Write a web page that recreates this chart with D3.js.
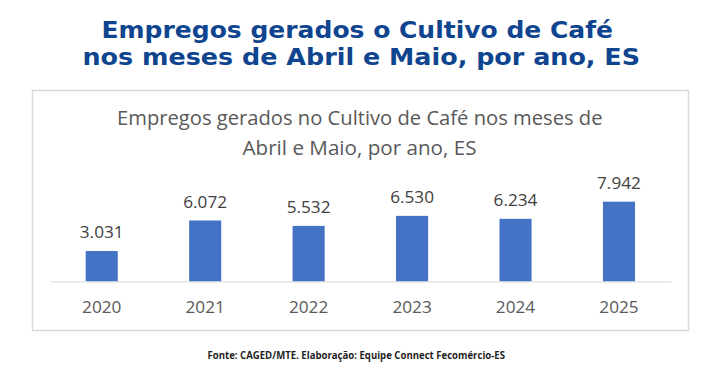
<!DOCTYPE html>
<html>
<head>
<meta charset="utf-8">
<script src="https://cdn.jsdelivr.net/npm/d3@7"></script>
<style>
  html, body { margin: 0; padding: 0; background: #ffffff; }
  svg { display: block; }
</style>
</head>
<body>
<svg id="chart" width="708" height="367"></svg>
<script>
const years = ["2020", "2021", "2022", "2023", "2024", "2025"];
const empregos = [3031, 6072, 5532, 6530, 6234, 7942];
const valueLabels = ["3.031", "6.072", "5.532", "6.530", "6.234", "7.942"];
const mainTitle = ["Empregos gerados o Cultivo de Café", "nos meses de Abril e Maio, por ano, ES"];
const chartTitle = ["Empregos gerados no Cultivo de Café nos meses de", "Abril e Maio, por ano, ES"];
const footer = "Fonte: CAGED/MTE. Elaboração: Equipe Connect Fecomércio-ES";

const svg = d3.select("#chart");

// Main title
const mt = svg.append("g");
const mtSpecs = [
  { y: 37.5, x0: 101.5, x1: 613 },
  { y: 64.5, x0: 82.5, x1: 640 }
];
mainTitle.forEach((t, i) => {
  const s = mtSpecs[i];
  mt.append("text")
    .attr("x", s.x0)
    .attr("y", s.y)
    .attr("textLength", s.x1 - s.x0)
    .attr("lengthAdjust", "spacingAndGlyphs")
    .style("font-family", "'DejaVu Sans', sans-serif")
    .style("font-weight", "bold")
    .style("font-size", "23.5px")
    .style("fill", "#0f448f")
    .text(t);
});

// Chart box
svg.append("rect")
  .attr("x", 32.5).attr("y", 90.5)
  .attr("width", 656).attr("height", 240)
  .attr("fill", "#ffffff")
  .attr("stroke", "#d9d9d9")
  .attr("stroke-width", 1.5);

// Chart title
const ctSpecs = [
  { y: 124.5, x0: 117, x1: 602.5 },
  { y: 154.5, x0: 242.5, x1: 476.5 }
];
chartTitle.forEach((t, i) => {
  const s = ctSpecs[i];
  svg.append("text")
    .attr("x", s.x0)
    .attr("y", s.y)
    .attr("textLength", s.x1 - s.x0)
    .attr("lengthAdjust", "spacingAndGlyphs")
    .style("font-family", "'Open Sans', sans-serif")
    .style("font-size", "20px")
    .style("fill", "#595959")
    .text(t);
});

// Scales
const x = d3.scaleBand().domain(years).range([50, 670.7]).paddingInner(0.69).paddingOuter(0.345);
const y = d3.scaleLinear().domain([0, 9000]).range([281.5, 191.05]);

// Bars
svg.append("g").selectAll("rect")
  .data(years)
  .join("rect")
  .attr("x", d => x(d))
  .attr("y", (d, i) => y(empregos[i]))
  .attr("width", x.bandwidth())
  .attr("height", (d, i) => y(0) - y(empregos[i]))
  .attr("fill", "#4472c4");

// Baseline axis
const xAxis = d3.axisBottom(x).tickSize(0).tickPadding(0);
const ax = svg.append("g").attr("transform", `translate(0,${y(0)})`).call(xAxis);
ax.select(".domain").attr("stroke", "#d9d9d9").attr("stroke-width", 1.2);
ax.selectAll(".tick text")
  .attr("y", 0)
  .attr("dy", 0)
  .attr("transform", "translate(0,31.8)")
  .style("font-family", "'Open Sans', sans-serif")
  .style("font-size", "17.2px")
  .style("fill", "#595959");

// Value labels
svg.append("g").selectAll("text")
  .data(years)
  .join("text")
  .attr("x", d => x(d) + x.bandwidth() / 2)
  .attr("y", (d, i) => y(empregos[i]) - 12.7)
  .attr("text-anchor", "middle")
  .style("font-family", "'Open Sans', sans-serif")
  .style("font-size", "17.2px")
  .style("fill", "#404040")
  .text((d, i) => valueLabels[i]);

// Footer
svg.append("text")
  .attr("x", 207.5)
  .attr("y", 359)
  .attr("textLength", 297.5)
  .attr("lengthAdjust", "spacingAndGlyphs")
  .style("font-family", "'Open Sans', sans-serif")
  .style("font-weight", "bold")
  .style("font-size", "10.5px")
  .style("fill", "#1f1f1f")
  .text(footer);
</script>
</body>
</html>
